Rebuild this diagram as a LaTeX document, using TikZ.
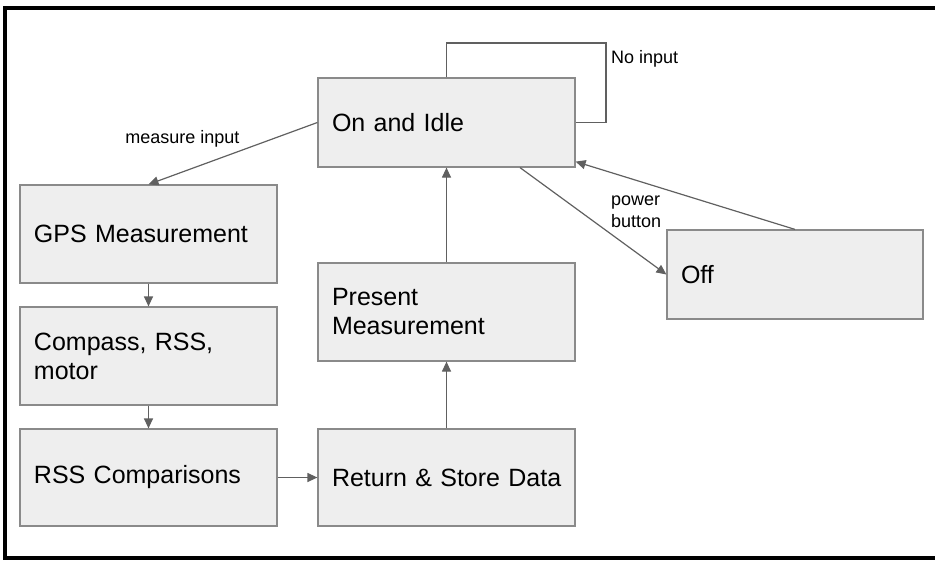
\documentclass[tikz,border=0pt]{standalone}
\usepackage{fontspec}
\setmainfont{Liberation Sans}
\usetikzlibrary{arrows.meta}
\definecolor{boxfill}{HTML}{EEEEEE}
\definecolor{boxline}{HTML}{8A8A8A}
\definecolor{linkline}{HTML}{606060}

\begin{document}
\begin{tikzpicture}[
    x=1pt, y=-1pt,
    state/.style={draw=boxline, line width=1.2pt, fill=boxfill, rectangle,
        text width=229pt, inner xsep=14pt, inner ysep=0pt, align=left,
        font=\fontsize{25}{29}\selectfont},
    link/.style={draw=linkline, line width=1.2pt, -{Triangle[length=10pt,width=9pt]}},
    edgelabel/.style={font=\fontsize{18}{21.5}\selectfont, inner sep=0pt}
]
    \useasboundingbox (0,0) rectangle (935,560);
    \draw[line width=4pt] (935,8) -- (5,8) -- (5,558) -- (935,558);

    \node[state, minimum height=89pt] (idle) at (446.5,122.5) {On and Idle};
    \node[state, minimum height=98pt] (gps) at (148.5,234) {GPS Measurement};
    \node[state, minimum height=98pt] (compass) at (148.5,356) {Compass, RSS,\\motor};
    \node[state, minimum height=97pt] (rsscmp) at (148.5,477.5) {RSS Comparisons};
    \node[state, minimum height=97pt] (store) at (446.5,477.5) {\mbox{Return \& Store Data}};
    \node[state, minimum height=98pt] (present) at (446.5,312) {Present\\Measurement};
    \node[state, minimum height=89pt, text width=228pt] (off) at (795,274.5) {Off};

    \node[edgelabel, anchor=base] (measlbl) at (182.5,143) {measure input};
    \node[edgelabel, anchor=base west] (noinlbl) at (611,63) {No input};
    \node[edgelabel, anchor=north west, align=left] (pwrlbl) at (611,196) {power\\button};

    \coordinate (loopcorner) at (606,43);
    \draw[draw=linkline, line width=1.2pt] (idle.north) |- (loopcorner) |- (idle.east);

    \draw[link] (idle.west) -- (gps.north);
    \draw[link] (gps.south) -- (compass.north);
    \draw[link] (compass.south) -- (rsscmp.north);
    \draw[link] (rsscmp.east) -- (store.west);
    \draw[link] (store.north) -- (present.south);
    \draw[link] (present.north) -- (idle.south);
    \draw[link] ([xshift=73.5pt]idle.south) -- (off.west);
    \draw[link] (off.north) -- ([yshift=6pt]idle.south east);
\end{tikzpicture}
\end{document}
